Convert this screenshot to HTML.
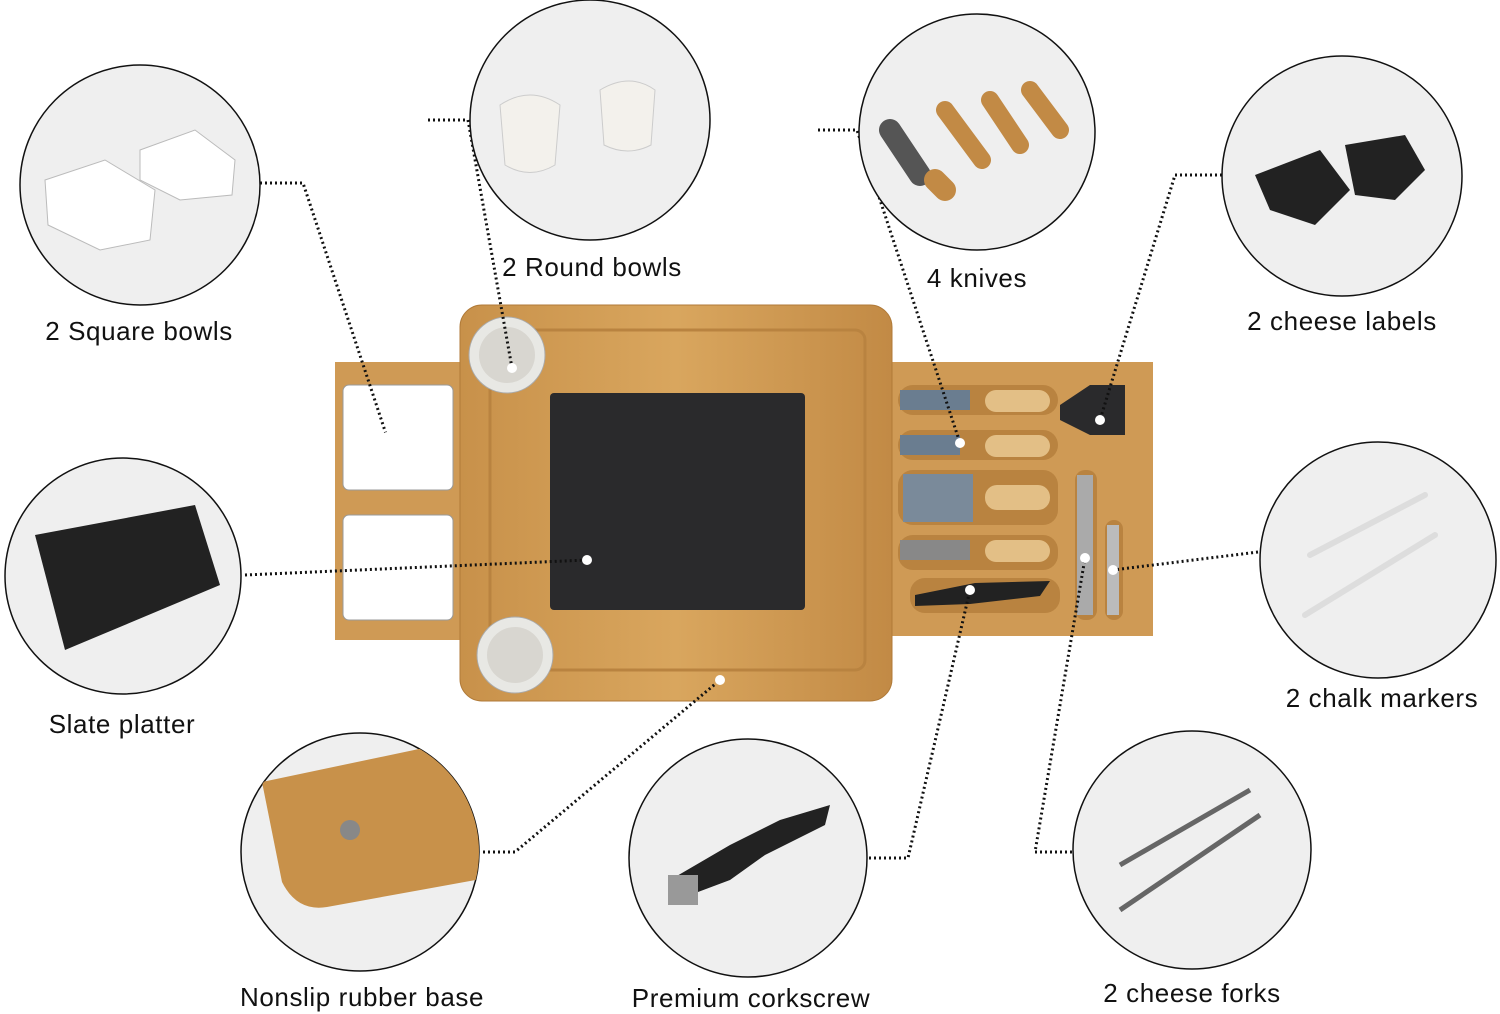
<!DOCTYPE html>
<html><head><meta charset="utf-8"><style>
html,body{margin:0;padding:0;background:#fff;}
svg{display:block;}
text{font-family:"Liberation Sans",sans-serif;font-size:26px;fill:#111;letter-spacing:0.6px;}
</style></head><body>
<svg width="1500" height="1014" viewBox="0 0 1500 1014" xmlns="http://www.w3.org/2000/svg">
<defs>
<linearGradient id="wood" x1="0" y1="0" x2="1" y2="0">
<stop offset="0" stop-color="#c8914a"/><stop offset="0.5" stop-color="#d9a65e"/><stop offset="1" stop-color="#c28a45"/>
</linearGradient>
<clipPath id="c1"><circle cx="140" cy="185" r="120"/></clipPath>
<clipPath id="c2"><circle cx="590" cy="120" r="120"/></clipPath>
<clipPath id="c3"><circle cx="977" cy="132" r="118"/></clipPath>
<clipPath id="c4"><circle cx="1342" cy="176" r="120"/></clipPath>
<clipPath id="c5"><circle cx="123" cy="576" r="118"/></clipPath>
<clipPath id="c6"><circle cx="1378" cy="560" r="118"/></clipPath>
<clipPath id="c7"><circle cx="360" cy="852" r="119"/></clipPath>
<clipPath id="c8"><circle cx="748" cy="858" r="119"/></clipPath>
<clipPath id="c9"><circle cx="1192" cy="850" r="119"/></clipPath>
</defs>
<!-- board -->
<rect x="335" y="362" width="130" height="278" fill="#cf9a55"/>
<rect x="885" y="362" width="268" height="274" fill="#cf9a55"/>
<rect x="460" y="305" width="432" height="396" rx="22" fill="url(#wood)" stroke="#b07a38"/>
<rect x="490" y="330" width="375" height="340" rx="10" fill="none" stroke="#b98340" stroke-width="3"/>
<rect x="550" y="393" width="255" height="217" rx="4" fill="#2a2a2c"/>
<rect x="343" y="385" width="110" height="105" rx="6" fill="#fff" stroke="#999"/>
<rect x="343" y="515" width="110" height="105" rx="6" fill="#fff" stroke="#999"/>
<circle cx="507" cy="355" r="38" fill="#e8e8e4" stroke="#aaa"/>
<circle cx="507" cy="355" r="28" fill="#d8d6d0"/>
<circle cx="515" cy="655" r="38" fill="#e8e8e4" stroke="#aaa"/>
<circle cx="515" cy="655" r="28" fill="#d8d6d0"/>
<g fill="#b98340">
<rect x="898" y="385" width="160" height="30" rx="15"/>
<rect x="898" y="430" width="160" height="30" rx="15"/>
<rect x="898" y="470" width="160" height="55" rx="15"/>
<rect x="898" y="535" width="160" height="35" rx="15"/>
<rect x="910" y="578" width="150" height="35" rx="15"/>
<rect x="1075" y="470" width="22" height="150" rx="10"/>
<rect x="1105" y="520" width="18" height="100" rx="9"/>
</g>
<rect x="900" y="390" width="70" height="20" fill="#6a7d90"/>
<rect x="900" y="435" width="60" height="20" fill="#6a7d90"/>
<rect x="903" y="474" width="70" height="48" fill="#7a8a9a"/>
<rect x="900" y="540" width="70" height="20" fill="#888"/>
<g fill="#e3bf86"><rect x="985" y="390" width="65" height="22" rx="11"/><rect x="985" y="435" width="65" height="22" rx="11"/><rect x="985" y="485" width="65" height="25" rx="12"/><rect x="985" y="540" width="65" height="22" rx="11"/></g>
<path d="M915,595 l60,-12 l75,-2 l-10,15 l-70,8 l-55,2z" fill="#222"/>
<polygon points="1060,405 1090,385 1125,385 1125,435 1090,435 1060,420" fill="#2a2a2c"/>
<rect x="1077" y="475" width="16" height="140" fill="#aaa"/>
<rect x="1107" y="525" width="12" height="90" fill="#bbb"/>
<!-- dotted lines -->
<g fill="none" stroke="#111" stroke-width="3" stroke-dasharray="2 3">
<polyline points="260,183 303,183 387,437"/>
<polyline points="428,120 468,120 512,368"/>
<polyline points="818,130 857,130 960,443"/>
<polyline points="1222,175 1175,175 1100,420"/>
<polyline points="245,575 587,560"/>
<polyline points="1258,552 1113,570"/>
<polyline points="483,852 515,852 720,680"/>
<polyline points="869,858 908,858 970,590"/>
<polyline points="1072,852 1035,852 1085,558"/>
</g>
<g fill="#fff">
<circle cx="387" cy="437" r="5"/><circle cx="512" cy="368" r="5"/><circle cx="960" cy="443" r="5"/>
<circle cx="1100" cy="420" r="5"/><circle cx="587" cy="560" r="5"/><circle cx="1113" cy="570" r="5"/>
<circle cx="720" cy="680" r="5"/><circle cx="970" cy="590" r="5"/><circle cx="1085" cy="558" r="5"/>
</g>
<!-- circles -->
<g fill="#efefef" stroke="#111" stroke-width="1.5">
<circle cx="140" cy="185" r="120"/>
<circle cx="590" cy="120" r="120"/>
<circle cx="977" cy="132" r="118"/>
<circle cx="1342" cy="176" r="120"/>
<circle cx="123" cy="576" r="118"/>
<circle cx="1378" cy="560" r="118"/>
<circle cx="360" cy="852" r="119"/>
<circle cx="748" cy="858" r="119"/>
<circle cx="1192" cy="850" r="119"/>
</g>
<!-- circle contents -->
<g clip-path="url(#c1)">
<polygon points="45,180 105,160 155,190 150,240 100,250 48,225" fill="#fff" stroke="#bbb"/>
<polygon points="140,150 195,130 235,160 232,195 180,200 140,180" fill="#fff" stroke="#bbb"/>
</g>
<g clip-path="url(#c2)">
<path d="M500,105 q30,-20 60,0 l-5,60 q-25,15 -50,0z" fill="#f3f1ec" stroke="#ccc"/>
<path d="M600,90 q30,-18 55,0 l-4,55 q-23,12 -47,0z" fill="#f3f1ec" stroke="#ccc"/>
</g>
<g clip-path="url(#c3)" stroke-linecap="round">
<line x1="890" y1="130" x2="920" y2="175" stroke="#555" stroke-width="22"/>
<line x1="935" y1="180" x2="945" y2="190" stroke="#c28a45" stroke-width="22"/>
<line x1="945" y1="110" x2="982" y2="160" stroke="#c28a45" stroke-width="18"/>
<line x1="990" y1="100" x2="1020" y2="145" stroke="#c28a45" stroke-width="18"/>
<line x1="1030" y1="90" x2="1060" y2="130" stroke="#c28a45" stroke-width="18"/>
</g>
<g clip-path="url(#c4)">
<polygon points="1255,175 1320,150 1350,190 1315,225 1270,210" fill="#222"/>
<polygon points="1345,145 1405,135 1425,170 1395,200 1355,195" fill="#222"/>
</g>
<polygon points="35,535 195,505 220,585 65,650" fill="#222" clip-path="url(#c5)"/>
<g clip-path="url(#c6)">
<line x1="1310" y1="555" x2="1425" y2="495" stroke="#ddd" stroke-width="6" stroke-linecap="round"/>
<line x1="1305" y1="615" x2="1435" y2="535" stroke="#ddd" stroke-width="6" stroke-linecap="round"/>
</g>
<g clip-path="url(#c7)">
<path d="M262,782 l190,-40 l40,25 l0,110 l-165,30 q-30,5 -45,-25z" fill="#c8914a"/>
<circle cx="350" cy="830" r="10" fill="#888"/>
</g>
<g clip-path="url(#c8)">
<path d="M670,880 l60,-35 l50,-25 l50,-15 l-5,20 l-60,30 l-35,25 l-40,15z" fill="#222"/>
<rect x="668" y="875" width="30" height="30" fill="#999"/>
</g>
<g clip-path="url(#c9)">
<line x1="1120" y1="865" x2="1250" y2="790" stroke="#666" stroke-width="5"/>
<line x1="1120" y1="910" x2="1260" y2="815" stroke="#666" stroke-width="5"/>
</g>
<!-- labels -->
<text x="139" y="340" text-anchor="middle">2 Square bowls</text>
<text x="592" y="276" text-anchor="middle">2 Round bowls</text>
<text x="977" y="287" text-anchor="middle">4 knives</text>
<text x="1342" y="330" text-anchor="middle">2 cheese labels</text>
<text x="122" y="733" text-anchor="middle">Slate platter</text>
<text x="1382" y="707" text-anchor="middle">2 chalk markers</text>
<text x="362" y="1006" text-anchor="middle">Nonslip rubber base</text>
<text x="751" y="1007" text-anchor="middle">Premium corkscrew</text>
<text x="1192" y="1002" text-anchor="middle">2 cheese forks</text>
</svg>
</body></html>
